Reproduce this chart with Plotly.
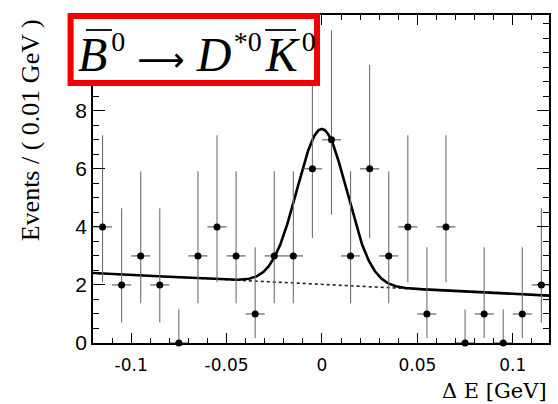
import numpy as np
import plotly.graph_objects as go

# ---- data ----
bin_centers = [-0.115, -0.105, -0.095, -0.085, -0.075, -0.065, -0.055, -0.045,
               -0.035, -0.025, -0.015, -0.005, 0.005, 0.015, 0.025, 0.035,
               0.045, 0.055, 0.065, 0.075, 0.085, 0.095, 0.105, 0.115]
events = [4, 2, 3, 2, 0, 3, 4, 3, 1, 3, 3, 6, 7, 3, 6, 3, 4, 1, 4, 0, 1, 0, 1, 2]
err_up = [3.16, 2.64, 2.92, 2.64, 1.15, 2.92, 3.16, 2.92, 2.30, 2.92, 2.92, 3.58,
          3.77, 2.92, 3.58, 2.92, 3.16, 2.30, 3.16, 1.15, 2.30, 1.15, 2.30, 2.64]
err_down = [1.91, 1.29, 1.63, 1.29, 0.0, 1.63, 1.91, 1.63, 0.83, 1.63, 1.63, 2.38,
            2.58, 1.63, 2.38, 1.63, 1.91, 0.83, 1.91, 0.0, 0.83, 0.0, 0.83, 1.29]
bin_half_width = 0.005

# fit model parameters (Gaussian signal + linear background)
bkg_at_zero = 2.02
bkg_slope = -3.25
sig_amp = 5.35
sig_mean = 0.0
sig_width = 0.013

x_ticks = [-0.1, -0.05, 0.0, 0.05, 0.1]
x_tick_labels = ["-0.1", "-0.05", "0", "0.05", "0.1"]
y_ticks = [0, 2, 4, 6, 8]
y_tick_labels = ["0", "2", "4", "6", "8"]

x_range = [-0.12, 0.119]
y_range = [0, 11.3]

# ---- fit curves ----
xf = np.linspace(x_range[0], x_range[1], 600)
bkg = bkg_at_zero + bkg_slope * xf
total = bkg + sig_amp * np.exp(-0.5 * ((xf - sig_mean) / sig_width) ** 2)

fig = go.Figure()
fig.add_trace(go.Scatter(x=xf, y=bkg, mode="lines",
                         line=dict(color="#222", width=1.6, dash="dot"),
                         hoverinfo="skip"))
fig.add_trace(go.Scatter(x=xf, y=total, mode="lines",
                         line=dict(color="black", width=2.6),
                         hoverinfo="skip"))
fig.add_trace(go.Scatter(
    x=bin_centers, y=events, mode="markers",
    marker=dict(color="black", size=7),
    error_y=dict(type="data", symmetric=False, array=err_up, arrayminus=err_down,
                 color="#707070", thickness=1.1, width=0),
    error_x=dict(type="constant", value=bin_half_width, color="#555",
                 thickness=1.1, width=0),
    cliponaxis=False,
))

axis_common = dict(showline=True, linecolor="black", linewidth=1.5, mirror="ticks",
                   ticks="inside", tickcolor="black", showgrid=False, zeroline=False)

fig.update_xaxes(range=x_range, tickmode="array", tickvals=x_ticks, ticktext=x_tick_labels,
                 ticklen=10, tickwidth=1.2, ticklabelstandoff=6,
                 tickfont=dict(family="DejaVu Sans", size=17, color="black"),
                 minor=dict(tickmode="linear", tick0=0, dtick=0.01, ticklen=5,
                            tickwidth=1, tickcolor="black", ticks="inside"),
                 **axis_common)
fig.update_yaxes(range=y_range, tickmode="array", tickvals=y_ticks, ticktext=y_tick_labels,
                 ticklen=12, tickwidth=1.2,
                 tickfont=dict(family="Liberation Sans", size=21, color="black"),
                 minor=dict(tickmode="linear", tick0=0, dtick=0.5, ticklen=6,
                            tickwidth=1, tickcolor="black", ticks="inside"),
                 **axis_common)

W, H = 558, 404
ml, mr, mt, mb = 93, 7, 15, 61
pw, ph = W - ml - mr, H - mt - mb


def px(xp):
    return (xp - ml) / pw


def py(yp):
    return (H - mb - yp) / ph


# red-framed decay label
fig.add_shape(type="rect", xref="paper", yref="paper",
              x0=px(70.5), x1=px(318), y0=py(83), y1=py(16),
              line=dict(color="#f00000", width=6), fillcolor="white", layer="above")

hs = "\u200a"
sup = '<sup><span style="font-size:28px">{}</span></sup>'
title_text = ('<i>B</i>' + hs + sup.format('0') +
              ' <span style="font-family:DejaVu Sans;font-size:33px">\u27f6</span> '
              '<i>D</i>' + sup.format(hs + '*0') + hs +
              '<i>K</i>' + hs + sup.format('0'))
fig.add_annotation(xref="paper", yref="paper", x=px(76), y=py(53),
                   text=title_text, showarrow=False, xanchor="left", yanchor="middle",
                   font=dict(family="Liberation Serif", size=48, color="black"))
# anti-particle bars over B and K
for x0, x1 in [(86, 112), (266, 297)]:
    fig.add_shape(type="line", xref="paper", yref="paper",
                  x0=px(x0), x1=px(x1), y0=py(30), y1=py(30),
                  line=dict(color="black", width=1.8), layer="above")

fig.add_annotation(xref="paper", yref="paper", x=px(30), y=py(130),
                   text="Events / ( 0.01 GeV )", textangle=-90, showarrow=False,
                   xanchor="center", yanchor="middle",
                   font=dict(family="Liberation Serif", size=26, color="black"))

fig.add_annotation(xref="paper", yref="paper", x=1.0, y=py(391),
                   text="\u0394 E [GeV]", showarrow=False,
                   xanchor="right", yanchor="middle",
                   font=dict(family="DejaVu Serif", size=21, color="black"))

fig.update_layout(width=W, height=H, margin=dict(l=ml, r=mr, t=mt, b=mb),
                  paper_bgcolor="white", plot_bgcolor="white", showlegend=False)

fig.write_html("out.html", config={"displayModeBar": False},
               post_script="document.body.style.margin='0';document.body.style.padding='0';")
